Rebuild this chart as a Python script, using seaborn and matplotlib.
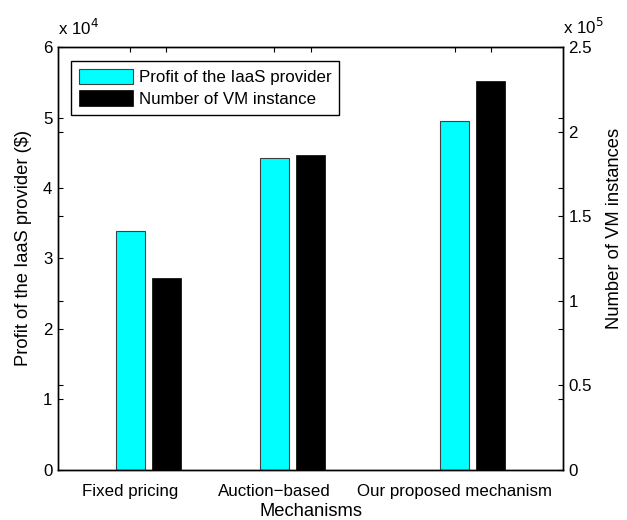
import numpy as np
import pandas as pd
import matplotlib
matplotlib.use("Agg")
import matplotlib.pyplot as plt
import seaborn as sns

# Mechanisms compared and the two measured quantities
mechanisms = ["Fixed pricing", "Auction\u2212based", "Our proposed mechanism"]
profit = [33900, 44300, 49550]          # profit of the IaaS provider ($)
vm_instances = [113300, 186000, 230100]  # number of VM instances

# Group placement along the x axis (profit bar, VM bar beside it)
group_pos = [1.0, 2.0, 3.25]
vm_offset = 0.25

TICK_FS = 12.2
LABEL_FS = 13.2

sns.set_theme(style="white")
plt.rcParams["font.family"] = ["Liberation Sans", "DejaVu Sans"]
plt.rcParams["font.size"] = TICK_FS
for key in ("text.color", "axes.labelcolor", "xtick.color", "ytick.color",
            "xtick.labelcolor", "ytick.labelcolor"):
    plt.rcParams[key] = "black"

df_profit = pd.DataFrame({"pos": group_pos, "value": profit})
df_vm = pd.DataFrame({"pos": [p + vm_offset for p in group_pos], "value": vm_instances})

fig = plt.figure(figsize=(6.27, 5.20), dpi=100)
ax = fig.add_axes([0.0925, 0.0962, 0.898 - 0.0925, 0.9096 - 0.0962])
ax2 = ax.twinx()

sns.barplot(data=df_profit, x="pos", y="value", native_scale=True, width=0.2,
            color="#00ffff", saturation=1, edgecolor="#404040", linewidth=0.8,
            errorbar=None, ax=ax, label="Profit of the IaaS provider")
sns.barplot(data=df_vm, x="pos", y="value", native_scale=True, width=0.2,
            color="black", saturation=1, edgecolor="black", linewidth=0.5,
            errorbar=None, ax=ax2, label="Number of VM instance")
for a in (ax, ax2):
    if a.get_legend() is not None:
        a.get_legend().remove()

# x axis
ax.set_xlim(0.5, 4.0)
ax.set_xticks(group_pos)
ax.set_xticklabels(mechanisms)
ax.set_xticks([p + vm_offset for p in group_pos], minor=True)
ax.set_xlabel("Mechanisms", fontsize=LABEL_FS)

# left y axis: profit, in units of 10^4
ax.set_ylim(0, 60000)
ax.set_yticks(np.arange(0, 60001, 10000))
ax.set_yticklabels([f"{v / 1e4:g}" for v in np.arange(0, 60001, 10000)])
ax.set_yticks([12000, 24000, 36000, 48000], minor=True)
ax.set_ylabel("Profit of the IaaS provider ($)", fontsize=LABEL_FS)

# right y axis: VM instances, in units of 10^5
ax2.set_ylim(0, 250000)
ax2.set_yticks(np.arange(0, 250001, 50000))
ax2.set_yticklabels([f"{v / 1e5:g}" for v in np.arange(0, 250001, 50000)])
ax2.set_yticks([250000 / 6 * k for k in range(1, 6)], minor=True)
ax2.set_ylabel("Number of VM instances", fontsize=LABEL_FS)

for a in (ax, ax2):
    a.tick_params(which="both", direction="in", length=3.5, width=0.8,
                  color="black", labelcolor="black", labelsize=TICK_FS, pad=4)
    for s in a.spines.values():
        s.set_color("black")
        s.set_linewidth(1.0)
ax.tick_params(axis="x", which="both", top=True, bottom=True, pad=10)
ax.tick_params(axis="y", which="both", left=True, right=False)
ax2.tick_params(axis="y", which="both", right=True, left=False)

ax.yaxis.set_label_coords(-0.052, 0.526)
ax2.yaxis.set_label_coords(1.085, 0.571)
ax.xaxis.set_label_coords(0.5, -0.079)

# exponent markers above each y axis
ax.text(0.0, 1.045, r"x 10$^4$", transform=ax.transAxes, ha="left", va="center",
        fontsize=TICK_FS)
ax2.text(1.0, 1.048, r"x 10$^5$", transform=ax2.transAxes, ha="left", va="center",
         fontsize=TICK_FS)

h1, l1 = ax.get_legend_handles_labels()
h2, l2 = ax2.get_legend_handles_labels()
leg = ax2.legend(h1 + h2, l1 + l2, loc="upper left", bbox_to_anchor=(0.0257, 0.967),
                 borderaxespad=0, frameon=True, fancybox=False, shadow=False,
                 handlelength=3.2, handleheight=1.06, handletextpad=0.35,
                 labelspacing=0.3, borderpad=0.45, fontsize=TICK_FS)
leg.get_frame().set_edgecolor("black")
leg.get_frame().set_linewidth(1.0)
leg.get_frame().set_alpha(1)

fig.savefig("out.png", dpi=100)
